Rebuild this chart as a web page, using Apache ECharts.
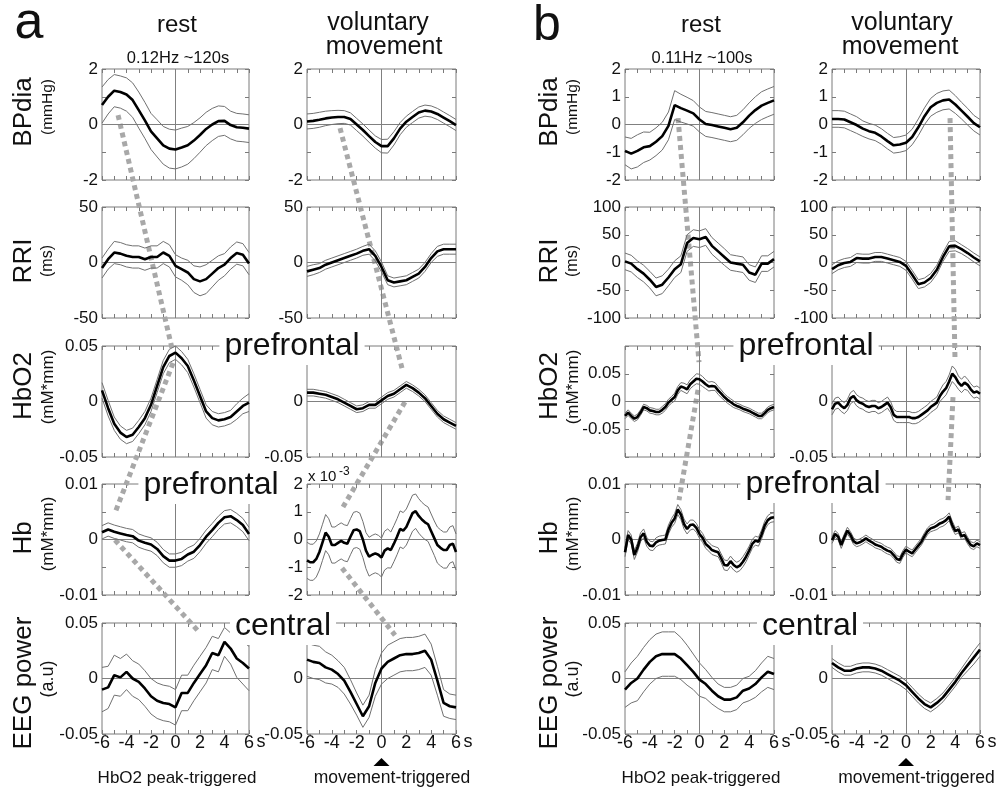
<!DOCTYPE html>
<html>
<head>
<meta charset="utf-8">
<script src="https://cdn.jsdelivr.net/npm/echarts@6/dist/echarts.min.js"></script>
<style>
  html, body { margin: 0; padding: 0; background: #fff; }
  #c { width: 1001px; height: 789px; }
</style>
</head>
<body>
<div id="c"></div>
<script>
// ---- sample times (s) ----
const T05 = [-6,-5.5,-5,-4.5,-4,-3.5,-3,-2.5,-2,-1.5,-1,-0.5,0,0.5,1,1.5,2,2.5,3,3.5,4,4.5,5,5.5,6];
const T025 = [-6,-5.75,-5.5,-5.25,-5,-4.75,-4.5,-4.25,-4,-3.75,-3.5,-3.25,-3,-2.75,-2.5,-2.25,-2,-1.75,-1.5,-1.25,-1,-0.75,-0.5,-0.25,0,0.25,0.5,0.75,1,1.25,1.5,1.75,2,2.25,2.5,2.75,3,3.25,3.5,3.75,4,4.25,4.5,4.75,5,5.25,5.5,5.75,6];

// ---- diastolic blood pressure (mmHg), mean and SE ----
const bpRestA_mean = [0.70,1.00,1.22,1.17,1.08,0.88,0.52,0.15,-0.25,-0.50,-0.75,-0.87,-0.90,-0.83,-0.75,-0.58,-0.38,-0.16,0.00,0.12,0.13,-0.02,-0.10,-0.12,-0.15];
const bpRestA_se   = [0.65,0.62,0.58,0.58,0.60,0.62,0.65,0.65,0.65,0.67,0.68,0.70,0.70,0.70,0.68,0.65,0.62,0.60,0.58,0.55,0.52,0.50,0.50,0.50,0.50];
const bpVolA_mean  = [0.11,0.13,0.17,0.22,0.25,0.27,0.27,0.20,0.00,-0.20,-0.42,-0.63,-0.78,-0.78,-0.50,-0.15,0.10,0.27,0.43,0.50,0.47,0.38,0.25,0.12,-0.02];
const bpVolA_se    = [0.27,0.27,0.27,0.26,0.25,0.24,0.23,0.22,0.22,0.22,0.22,0.22,0.24,0.25,0.24,0.22,0.20,0.20,0.20,0.20,0.20,0.20,0.20,0.20,0.20];
const bpRestB_mean = [-0.95,-1.05,-0.95,-0.82,-0.78,-0.62,-0.42,-0.05,0.70,0.59,0.50,0.40,0.18,0.02,-0.02,-0.07,-0.12,-0.17,-0.12,0.08,0.32,0.52,0.68,0.78,0.87];
const bpRestB_se   = [0.50,0.55,0.58,0.55,0.50,0.50,0.50,0.50,0.52,0.50,0.48,0.46,0.45,0.45,0.45,0.45,0.45,0.45,0.45,0.45,0.46,0.48,0.50,0.50,0.50];
const bpVolB_mean  = [0.20,0.20,0.18,0.08,-0.02,-0.15,-0.24,-0.30,-0.43,-0.60,-0.75,-0.72,-0.66,-0.45,-0.10,0.30,0.62,0.78,0.87,0.90,0.72,0.50,0.28,0.05,-0.10];
const bpVolB_se    = [0.30,0.30,0.30,0.30,0.30,0.28,0.28,0.28,0.28,0.28,0.28,0.28,0.28,0.28,0.30,0.30,0.32,0.34,0.34,0.34,0.32,0.30,0.30,0.28,0.28];

// ---- R-R interval (ms) ----
const rriRestA_mean = [-5,3,9,8,6,5,5,3,5,5,9,6,-3,-6,-9,-15,-17,-15,-10,-5,-2,4,8.5,7,-1];
const rriRestA_se   = [9,9,10,10,10,10,10,10,10,10,10,10,10,10,11,12,13,13,12,11,10,10,10,10,10];
const rriVolA_mean  = [-8,-6.5,-5,-2,0,2,4,6,8,10.5,12,6,-4,-16,-18,-17,-16,-13,-10,-4,4,10,12,12,12];
const rriVolA_se    = [4.5,4.5,4,4,4,4,4,4,4,4,4.5,4.5,4.5,4,4,4,4,4,4,4,4,4.5,4.5,4.5,4.5];
const rriRestB_mean = [2,-2,-12,-20,-31,-44,-40,-27,-12,-3,35,44,42,46,30,20,10,0,-2,-4,-18,-22,-2,-2,6];
const rriRestB_se   = [15,15,15,15,15,16,16,15,15,15,15,15,15,15,15,15,15,14,14,14,14,14,14,14,14];
const rriVolB_mean  = [-12,-5,-1,1,8,7,7,10,10,7,4,1,-6,-22,-39,-36,-28,-13,10,29,30,24,17,9,2];
const rriVolB_se    = [8,8,8,8,8,8,8,8,8,8,8,8,8,8,8,8,8,8,8,9,9,8,8,8,8];

// ---- prefrontal HbO2 (mM*mm) ----
const hbo2RestA_mean = [0.010,-0.006,-0.020,-0.028,-0.032,-0.030,-0.023,-0.015,-0.003,0.014,0.031,0.041,0.044,0.039,0.032,0.019,0.005,-0.009,-0.015,-0.017,-0.016,-0.014,-0.009,-0.004,-0.001];
const hbo2RestA_se   = [0.007,0.007,0.006,0.006,0.006,0.006,0.006,0.006,0.006,0.006,0.006,0.006,0.006,0.006,0.006,0.006,0.006,0.006,0.006,0.006,0.006,0.006,0.007,0.007,0.008];
const hbo2VolA_mean  = [0.008,0.008,0.007,0.006,0.004,0.002,-0.001,-0.004,-0.007,-0.006,-0.003,-0.003,0.001,0.005,0.007,0.011,0.015,0.012,0.008,0.003,-0.004,-0.011,-0.016,-0.019,-0.022];
const hbo2VolA_se    = [0.003,0.003,0.003,0.003,0.003,0.003,0.003,0.003,0.003,0.003,0.003,0.003,0.003,0.003,0.003,0.003,0.003,0.003,0.003,0.003,0.003,0.003,0.003,0.003,0.003];
const hbo2RestB_mean = [-0.026,-0.020,-0.026,-0.031,-0.028,-0.020,-0.010,-0.012,-0.016,-0.017,-0.019,-0.019,-0.015,-0.010,-0.002,0.003,0.008,0.020,0.027,0.025,0.022,0.031,0.036,0.041,0.040,0.036,0.031,0.027,0.028,0.027,0.020,0.014,0.008,0.003,-0.001,-0.005,-0.008,-0.010,-0.013,-0.015,-0.017,-0.020,-0.023,-0.026,-0.026,-0.021,-0.015,-0.012,-0.010];
const hbo2RestB_se   = [0.005,0.005,0.005,0.005,0.005,0.005,0.005,0.005,0.005,0.005,0.005,0.005,0.006,0.006,0.006,0.006,0.007,0.007,0.007,0.008,0.008,0.008,0.008,0.009,0.009,0.009,0.008,0.008,0.008,0.007,0.007,0.007,0.006,0.006,0.006,0.006,0.005,0.005,0.005,0.005,0.005,0.005,0.005,0.005,0.005,0.005,0.005,0.005,0.005];
const hbo2VolB_mean  = [-0.007,-0.002,-0.001,-0.004,-0.006,-0.003,0.003,0.005,0.001,-0.001,-0.002,-0.004,-0.005,-0.004,-0.004,-0.006,-0.005,-0.003,-0.001,-0.005,-0.012,-0.014,-0.014,-0.014,-0.014,-0.014,-0.015,-0.015,-0.014,-0.012,-0.010,-0.008,-0.005,-0.003,-0.001,0.005,0.009,0.012,0.018,0.025,0.022,0.017,0.014,0.017,0.015,0.011,0.008,0.009,0.007];
const hbo2VolB_se    = [0.005,0.005,0.005,0.005,0.005,0.005,0.005,0.005,0.005,0.005,0.005,0.005,0.005,0.005,0.005,0.005,0.005,0.005,0.005,0.005,0.005,0.005,0.005,0.005,0.005,0.005,0.005,0.005,0.005,0.005,0.005,0.005,0.005,0.005,0.005,0.005,0.006,0.006,0.006,0.007,0.007,0.006,0.006,0.006,0.005,0.005,0.005,0.005,0.005];

// ---- prefrontal Hb (mM*mm; the voluntary-movement panel of set a is in units of 1e-3) ----
const hbRestA_mean = [0.0013,0.0018,0.0014,0.0011,0.0008,0.0006,-0.0002,-0.0006,-0.0009,-0.0017,-0.0030,-0.0038,-0.0038,-0.0035,-0.0027,-0.0022,-0.0010,0.0005,0.0017,0.0030,0.0040,0.0042,0.0035,0.0026,0.0010];
const hbRestA_se   = [0.0012,0.0012,0.0012,0.0012,0.0012,0.0012,0.0012,0.0012,0.0012,0.0012,0.0012,0.0012,0.0012,0.0012,0.0012,0.0012,0.0012,0.0012,0.0012,0.0012,0.0012,0.0012,0.0012,0.0012,0.0012];
const hbVolA_mean  = [-0.75,-0.82,-0.82,-0.70,-0.45,-0.10,0.25,0.10,-0.20,-0.20,-0.12,-0.05,-0.12,-0.15,0.10,0.33,0.36,0.30,0.00,-0.40,-0.62,-0.55,-0.50,-0.55,-0.65,-0.40,-0.32,-0.38,-0.15,0.10,0.38,0.32,0.45,0.70,0.95,1.02,0.85,0.72,0.62,0.55,0.30,0.05,-0.20,-0.30,-0.38,-0.38,-0.20,-0.15,-0.45];
const hbVolA_se    = [0.65,0.65,0.65,0.65,0.65,0.65,0.65,0.65,0.65,0.65,0.65,0.65,0.65,0.65,0.65,0.65,0.65,0.65,0.65,0.65,0.70,0.70,0.70,0.70,0.70,0.70,0.70,0.65,0.65,0.65,0.65,0.65,0.65,0.65,0.65,0.62,0.62,0.62,0.62,0.62,0.62,0.62,0.65,0.65,0.65,0.65,0.65,0.65,0.65];
const hbRestB_mean = [-0.0023,0.0008,0.0000,-0.0028,-0.0015,0.0004,0.0011,-0.0004,-0.0011,-0.0012,-0.0005,-0.0002,-0.0001,0.0000,0.0018,0.0030,0.0038,0.0054,0.0045,0.0028,0.0019,0.0026,0.0027,0.0021,0.0010,0.0003,-0.0008,-0.0013,-0.0019,-0.0021,-0.0023,-0.0034,-0.0046,-0.0047,-0.0039,-0.0046,-0.0050,-0.0047,-0.0040,-0.0031,-0.0020,-0.0008,-0.0002,-0.0004,0.0009,0.0025,0.0035,0.0039,0.0040];
const hbRestB_se   = [0.0008,0.0008,0.0008,0.0008,0.0008,0.0008,0.0008,0.0008,0.0008,0.0008,0.0008,0.0008,0.0008,0.0008,0.0008,0.0008,0.0009,0.0009,0.0009,0.0009,0.0009,0.0009,0.0008,0.0008,0.0008,0.0008,0.0008,0.0008,0.0008,0.0008,0.0008,0.0008,0.0009,0.0009,0.0009,0.0009,0.0009,0.0009,0.0009,0.0009,0.0008,0.0008,0.0008,0.0008,0.0008,0.0008,0.0008,0.0008,0.0008];
const hbVolB_mean  = [-0.0001,0.0010,0.0005,-0.0010,0.0004,0.0016,0.0008,-0.0003,-0.0007,-0.0005,-0.0002,0.0002,-0.0002,-0.0005,-0.0009,-0.0011,-0.0013,-0.0017,-0.0020,-0.0022,-0.0028,-0.0035,-0.0037,-0.0026,-0.0018,-0.0022,-0.0025,-0.0018,-0.0011,-0.0004,0.0006,0.0015,0.0020,0.0022,0.0025,0.0029,0.0031,0.0035,0.0041,0.0026,0.0015,0.0018,0.0006,0.0008,-0.0002,-0.0010,-0.0012,-0.0007,-0.0010];
const hbVolB_se    = [0.0006,0.0006,0.0006,0.0006,0.0006,0.0006,0.0006,0.0006,0.0006,0.0006,0.0006,0.0006,0.0006,0.0006,0.0006,0.0006,0.0006,0.0006,0.0006,0.0006,0.0006,0.0006,0.0006,0.0006,0.0006,0.0006,0.0006,0.0006,0.0006,0.0006,0.0006,0.0006,0.0006,0.0006,0.0007,0.0007,0.0007,0.0007,0.0007,0.0007,0.0006,0.0006,0.0006,0.0006,0.0006,0.0006,0.0006,0.0006,0.0006];

// ---- central EEG power (a.u) ----
const eegRestA_mean = [-0.010,-0.008,0.003,0.001,0.006,0.000,-0.003,-0.009,-0.016,-0.020,-0.022,-0.023,-0.026,-0.013,-0.013,-0.004,0.004,0.012,0.023,0.021,0.033,0.027,0.018,0.014,0.009];
const eegRestA_se   = [0.020,0.019,0.018,0.017,0.016,0.016,0.016,0.016,0.016,0.016,0.016,0.016,0.016,0.016,0.016,0.016,0.016,0.016,0.015,0.015,0.013,0.014,0.017,0.019,0.020];
const eegVolA_mean  = [0.017,0.015,0.014,0.010,0.008,0.004,-0.002,-0.012,-0.023,-0.034,-0.025,-0.004,0.009,0.015,0.018,0.021,0.022,0.022,0.023,0.025,0.017,-0.002,-0.022,-0.025,-0.026];
const eegVolA_se    = [0.015,0.015,0.015,0.014,0.013,0.012,0.012,0.011,0.010,0.010,0.010,0.012,0.014,0.015,0.015,0.015,0.015,0.015,0.015,0.015,0.014,0.013,0.012,0.011,0.011];
const eegRestB_mean = [-0.010,-0.004,0.000,0.008,0.015,0.020,0.022,0.022,0.022,0.018,0.012,0.006,-0.001,-0.005,-0.011,-0.016,-0.019,-0.019,-0.017,-0.011,-0.009,-0.005,0.001,0.006,0.004];
const eegRestB_se   = [0.016,0.018,0.020,0.020,0.020,0.020,0.020,0.020,0.020,0.019,0.018,0.016,0.015,0.013,0.012,0.011,0.011,0.011,0.011,0.011,0.011,0.012,0.013,0.014,0.014];
const eegVolB_mean  = [0.014,0.010,0.007,0.007,0.009,0.010,0.010,0.009,0.007,0.004,0.001,-0.002,-0.006,-0.012,-0.018,-0.023,-0.026,-0.022,-0.017,-0.010,-0.003,0.005,0.012,0.019,0.026];
const eegVolB_se    = [0.004,0.004,0.004,0.004,0.004,0.004,0.004,0.004,0.004,0.004,0.004,0.004,0.004,0.004,0.004,0.004,0.004,0.004,0.004,0.004,0.004,0.004,0.005,0.006,0.006];

// ---- axis ranges [min, max, step] and labelled ticks ----
const bpAxis = [-2, 2, 1],        bpTicksA = [-2, 0, 2],        bpTicksB = [-2, -1, 0, 1, 2];
const rriAxisA = [-50, 50, 50],   rriTicksA = [-50, 0, 50];
const rriAxisB = [-100, 100, 50], rriTicksB = [-100, -50, 0, 50, 100];
const hbo2Axis = [-0.05, 0.05, 0.05], hbo2Ticks = [-0.05, 0, 0.05];
const hbo2AxisWide = [-0.1, 0.1, 0.05];
const hbAxis = [-0.01, 0.01, 0.005], hbTicks = [-0.01, 0, 0.01];
const hbAxisMilli = [-2, 2, 1],  hbTicksMilli = [-2, -1, 0, 1, 2];
const eegAxis = [-0.05, 0.05, 0.05], eegTicks = [-0.05, 0, 0.05];
const xTicks = [-6, -4, -2, 0, 2, 4, 6];

// panel k = row * 4 + column (columns: a-rest, a-movement, b-rest, b-movement)
const panels = [
  { t: T05, mean: bpRestA_mean, se: bpRestA_se, axis: bpAxis, ticks: bpTicksA },
  { t: T05, mean: bpVolA_mean,  se: bpVolA_se,  axis: bpAxis, ticks: bpTicksA },
  { t: T05, mean: bpRestB_mean, se: bpRestB_se, axis: bpAxis, ticks: bpTicksB },
  { t: T05, mean: bpVolB_mean,  se: bpVolB_se,  axis: bpAxis, ticks: bpTicksB },

  { t: T05, mean: rriRestA_mean, se: rriRestA_se, axis: rriAxisA, ticks: rriTicksA },
  { t: T05, mean: rriVolA_mean,  se: rriVolA_se,  axis: rriAxisA, ticks: rriTicksA },
  { t: T05, mean: rriRestB_mean, se: rriRestB_se, axis: rriAxisB, ticks: rriTicksB },
  { t: T05, mean: rriVolB_mean,  se: rriVolB_se,  axis: rriAxisB, ticks: rriTicksB },

  { t: T05,  mean: hbo2RestA_mean, se: hbo2RestA_se, axis: hbo2Axis, ticks: hbo2Ticks },
  { t: T05,  mean: hbo2VolA_mean,  se: hbo2VolA_se,  axis: hbo2Axis, ticks: hbo2Ticks },
  { t: T025, mean: hbo2RestB_mean, se: hbo2RestB_se, axis: hbo2AxisWide, ticks: hbo2Ticks },
  { t: T025, mean: hbo2VolB_mean,  se: hbo2VolB_se,  axis: hbo2Axis, ticks: hbo2Ticks },

  { t: T05,  mean: hbRestA_mean, se: hbRestA_se, axis: hbAxis, ticks: hbTicks },
  { t: T025, mean: hbVolA_mean,  se: hbVolA_se,  axis: hbAxisMilli, ticks: hbTicksMilli },
  { t: T025, mean: hbRestB_mean, se: hbRestB_se, axis: hbAxis, ticks: hbTicks },
  { t: T025, mean: hbVolB_mean,  se: hbVolB_se,  axis: hbAxis, ticks: hbTicks },

  { t: T05, mean: eegRestA_mean, se: eegRestA_se, axis: eegAxis, ticks: eegTicks },
  { t: T05, mean: eegVolA_mean,  se: eegVolA_se,  axis: eegAxis, ticks: eegTicks },
  { t: T05, mean: eegRestB_mean, se: eegRestB_se, axis: eegAxis, ticks: eegTicks },
  { t: T05, mean: eegVolB_mean,  se: eegVolB_se,  axis: eegAxis, ticks: eegTicks }
];

// dotted guides linking peaks across rows: [panel, t, value] -> [panel, t, value]
const peakLinks = [
  [[0, -4.69, 0.34],   [8, -0.29, 0.048]],
  [[8, -0.20, 0.0347], [12, -4.94, 0.0048]],
  [[12, -4.94, -0.0001], [16, 2.0, 0.041]],
  [[1, -3.34, -0.13],  [9, 1.65, 0.030]],
  [[9, 1.89, -0.0005], [13, -3.10, 1.17]],
  [[13, -3.18, -1.03], [17, 1.09, 0.039]],
  [[2, -1.73, 0.23],   [10, -0.04, 0.071]],
  [[10, -0.12, 0.021], [14, -1.65, 0.0071]],
  [[3, 3.57, 0.23],    [11, 3.97, 0.040]],
  [[11, 3.81, 0.004],  [15, 3.41, 0.0071]]
];

// ---- layout & style ----
const COL_L = [102, 307, 625, 832];
const COL_W = [147, 149, 149, 148];
const ROW_T = [69, 207, 346, 484, 623];
const ROW_H = 111;
const FONT = '"Liberation Sans", Arial, Helvetica, sans-serif';
const TXT = '#111';
const BOX = '#7a7a7a';
const SE_C = '#707070';
const ZERO_C = '#808080';
const font = s => s + 'px ' + FONT;
const num = v => String(+(+v).toFixed(6));

const chart = echarts.init(document.getElementById('c'), null, { renderer: 'canvas' });

const option = {
  animation: false,
  backgroundColor: '#ffffff',
  grid: [], xAxis: [], yAxis: [], series: []
};

panels.forEach((p, k) => {
  const r = Math.floor(k / 4), c = k % 4;
  option.grid.push({
    left: COL_L[c], top: ROW_T[r], width: COL_W[c], height: ROW_H,
    show: true, borderColor: BOX, borderWidth: 1, backgroundColor: 'rgba(0,0,0,0)'
  });
  const tick = { show: true, inside: true, length: 4, lineStyle: { color: BOX, width: 1 } };
  const noLine = { show: false, onZero: false };
  const xBase = {
    gridIndex: k, type: 'value', min: -6, max: 6, interval: 2,
    axisLine: noLine, axisTick: tick,
    minorTick: { show: true, splitNumber: 2, length: 4, lineStyle: { color: BOX, width: 1 } },
    splitLine: { show: false }, minorSplitLine: { show: false }
  };
  option.xAxis.push(Object.assign({}, xBase, {
    position: 'bottom',
    axisLabel: {
      show: r === 4, margin: 0, fontSize: 18, color: TXT, fontFamily: FONT,
      formatter: v => (xTicks.indexOf(+v) >= 0 ? num(v) : '')
    }
  }));
  option.xAxis.push(Object.assign({}, xBase, { position: 'top', axisLabel: { show: false } }));
  const yBase = {
    gridIndex: k, type: 'value', min: p.axis[0], max: p.axis[1], interval: p.axis[2],
    axisLine: noLine, axisTick: tick, splitLine: { show: false }
  };
  option.yAxis.push(Object.assign({}, yBase, {
    position: 'left',
    axisLabel: {
      show: true, margin: 4, fontSize: 17, color: TXT, fontFamily: FONT,
      formatter: v => (p.ticks.some(q => Math.abs(q - v) < 1e-9) ? num(v) : '')
    }
  }));
  option.yAxis.push(Object.assign({}, yBase, { position: 'right', axisLabel: { show: false } }));

  const upper = p.t.map((t, i) => [t, p.mean[i] + p.se[i]]);
  const lower = p.t.map((t, i) => [t, p.mean[i] - p.se[i]]);
  const mean = p.t.map((t, i) => [t, p.mean[i]]);
  const common = { type: 'line', xAxisIndex: 2 * k, yAxisIndex: 2 * k, symbol: 'none', silent: true, animation: false };
  option.series.push(Object.assign({}, common, {
    data: upper, z: 5, lineStyle: { color: SE_C, width: 1 },
    markLine: {
      silent: true, symbol: ['none', 'none'], label: { show: false }, animation: false,
      lineStyle: { color: ZERO_C, width: 1, type: 'solid' },
      data: [{ xAxis: 0 }, { yAxis: 0 }]
    }
  }));
  option.series.push(Object.assign({}, common, { data: lower, z: 5, lineStyle: { color: SE_C, width: 1 } }));
  option.series.push(Object.assign({}, common, { data: mean, z: 6, lineStyle: { color: '#000', width: 2.6 } }));
});

chart.setOption(option);

// ---- annotations ----
const px = (k, t, v) => chart.convertToPixel({ seriesIndex: 3 * k + 2 }, [t, v]);
const g = [];

peakLinks.forEach(([a, b]) => {
  const p1 = px(a[0], a[1], a[2]);
  const p2 = px(b[0], b[1], b[2]);
  g.push({
    type: 'line', z: 4, silent: true,
    shape: { x1: p1[0], y1: p1[1], x2: p2[0], y2: p2[1] },
    style: { stroke: '#a8a8a8', lineWidth: 5, lineDash: [5, 4], lineCap: 'butt' }
  });
});

function txt(text, x, y, size, extra) {
  g.push(Object.assign({
    type: 'text', x: x, y: y, z: 50, silent: true,
    style: { text: text, font: font(size), fill: TXT, align: 'center', verticalAlign: 'middle' }
  }, extra || {}));
}
function vtxt(text, x, y, size) {
  txt(text, x, y, size, { rotation: Math.PI / 2 });
}
function boxed(text, x, y) {
  g.push({
    type: 'text', x: x, y: y, z: 60, silent: true,
    style: {
      text: text, font: font(32), fill: TXT, align: 'center', verticalAlign: 'middle',
      backgroundColor: '#ffffff', padding: [3, 5, 3, 5]
    }
  });
}

// panel letters and column headings
txt('a', 29, 24, 52);
txt('b', 547, 26, 50);
txt('rest', 177, 25, 24);
txt('0.12Hz ~120s', 178, 58, 16.5);
txt('voluntary', 378, 23, 25);
txt('movement', 384, 47, 25);
txt('rest', 701, 25, 24);
txt('0.11Hz ~100s', 702, 58, 16.5);
txt('voluntary', 902, 23, 25);
txt('movement', 900, 47, 25);

// row names and units
const rowNames = [['BPdia', '(mmHg)', 112, 107, 15.5], ['RRI', '(ms)', 261, 261, 16],
                  ['HbO2', '(mM*mm)', 386, 387, 17], ['Hb', '(mM*mm)', 538, 534, 17],
                  ['EEG power', '(a.u)', 683, 679, 18]];
rowNames.forEach(([big, unit, yb, yu, us]) => {
  vtxt(big, 24, yb, 26);
  vtxt(unit, 48, yu, us);
  vtxt(big, 550, yb, 26);
  vtxt(unit, 573, yu, us);
});

// region labels sitting on the panel frames
boxed('prefrontal', 292, 346);
boxed('prefrontal', 211, 485);
boxed('central', 283, 626);
boxed('prefrontal', 806, 346);
boxed('prefrontal', 813, 484);
boxed('central', 810, 626);

// scale factor of the a-movement Hb panel
g.push({ type: 'text', x: 308, y: 477, z: 50, silent: true,
  style: { text: 'x 10', font: font(15), fill: TXT, align: 'left', verticalAlign: 'middle' } });
g.push({ type: 'text', x: 339, y: 472, z: 50, silent: true,
  style: { text: '-3', font: font(12), fill: TXT, align: 'left', verticalAlign: 'middle' } });

// time unit after the last x tick and trigger captions
[16, 17, 18, 19].forEach((k, i) => {
  const end = px(k, 6, 0);
  txt('s', end[0] + 12, 742, 18);
  const zero = px(k, 0, 0);
  if (i % 2 === 0) {
    txt('HbO2 peak-triggered', zero[0] + 1.5, 778, 17);
  } else {
    txt('movement-triggered', zero[0] + 10.5, 778, 17.5);
    g.push({ type: 'polygon', z: 50, silent: true,
      shape: { points: [[zero[0] - 8, 766], [zero[0] + 8, 766], [zero[0], 758]] },
      style: { fill: '#000' } });
  }
});

chart.setOption({ graphic: { elements: g } });
</script>
</body>
</html>
